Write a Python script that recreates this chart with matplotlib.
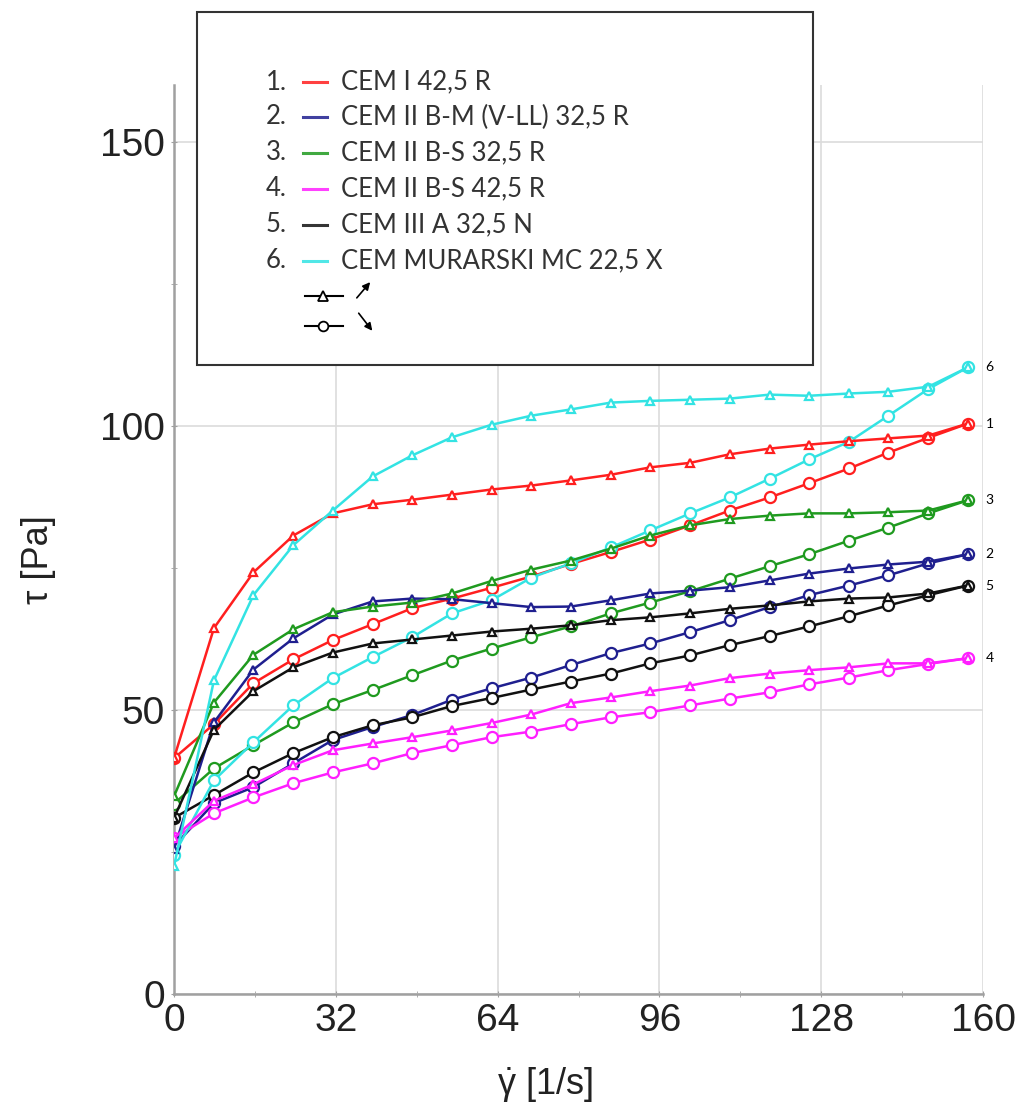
import matplotlib
matplotlib.use('Agg')
import matplotlib.pyplot as plt
from matplotlib.lines import Line2D
from matplotlib.patches import Rectangle, FancyArrowPatch

plt.rcParams['mathtext.fontset'] = 'custom'
plt.rcParams['mathtext.rm'] = 'Liberation Sans'
plt.rcParams['mathtext.it'] = 'Liberation Sans'

# --- Data: shear stress tau [Pa] vs shear rate [1/s], up (triangles) and down (circles) ---
shear_rate = [0, 7.9, 15.7, 23.6, 31.4, 39.3, 47.1, 55.0, 62.8, 70.7, 78.5,
              86.4, 94.2, 102.1, 109.9, 117.8, 125.6, 133.5, 141.3, 149.2, 157.0]

labels = ['CEM I 42,5 R', 'CEM II B-M (V-LL) 32,5 R', 'CEM II B-S 32,5 R',
          'CEM II B-S 42,5 R', 'CEM III A 32,5 N', 'CEM MURARSKI MC 22,5 X']
colors = ['#ff1f1f', '#1f1f8f', '#1f9a1f', '#ff1fff', '#111111', '#33e3e3']

up_1 = [41.5, 64.4, 74.2, 80.7, 84.6, 86.2, 87.0, 87.9, 88.8, 89.5, 90.4,
        91.4, 92.7, 93.5, 95.0, 96.0, 96.7, 97.3, 97.8, 98.3, 100.4]
down_1 = [41.5, 47.5, 54.7, 58.9, 62.3, 65.1, 67.9, 69.6, 71.5, 73.5, 75.7,
          77.8, 80.0, 82.5, 85.1, 87.4, 89.9, 92.5, 95.3, 97.9, 100.4]
up_2 = [25.5, 47.8, 57.1, 62.6, 66.8, 69.1, 69.6, 69.5, 68.8, 68.1, 68.2,
        69.3, 70.5, 71.0, 71.6, 72.8, 74.0, 74.9, 75.6, 76.1, 77.4]
down_2 = [26.0, 33.6, 36.4, 40.6, 44.7, 47.0, 49.1, 51.8, 53.8, 55.7, 57.9,
          60.0, 61.7, 63.7, 65.8, 68.1, 70.2, 71.9, 73.7, 75.8, 77.4]
up_3 = [34.8, 51.3, 59.7, 64.2, 67.2, 68.2, 68.9, 70.5, 72.7, 74.7, 76.3,
        78.4, 80.7, 82.5, 83.6, 84.2, 84.6, 84.6, 84.8, 85.1, 86.9]
down_3 = [33.5, 39.7, 43.8, 47.8, 51.0, 53.5, 56.1, 58.7, 60.8, 62.8, 64.7,
          67.0, 68.9, 70.9, 73.1, 75.3, 77.4, 79.8, 82.1, 84.6, 86.9]
up_4 = [27.4, 34.0, 36.9, 40.3, 42.9, 44.1, 45.2, 46.4, 47.7, 49.2, 51.2,
        52.2, 53.3, 54.3, 55.6, 56.4, 57.0, 57.5, 58.2, 58.2, 59.1]
down_4 = [27.4, 31.8, 34.6, 37.1, 39.0, 40.6, 42.4, 43.8, 45.2, 46.2, 47.5,
          48.7, 49.6, 50.8, 52.0, 53.1, 54.5, 55.7, 57.0, 58.1, 59.1]
up_5 = [31.0, 46.5, 53.3, 57.5, 60.1, 61.7, 62.4, 63.1, 63.8, 64.3, 64.9,
        65.8, 66.3, 67.0, 67.8, 68.4, 69.1, 69.6, 69.8, 70.5, 71.9]
down_5 = [31.0, 35.0, 39.0, 42.4, 45.2, 47.3, 48.7, 50.7, 52.1, 53.6, 55.0,
          56.4, 58.2, 59.6, 61.4, 63.0, 64.7, 66.5, 68.4, 70.2, 71.9]
up_6 = [22.5, 55.2, 70.2, 79.0, 85.1, 91.1, 94.8, 98.0, 100.2, 101.8, 102.9,
        104.1, 104.4, 104.6, 104.8, 105.5, 105.3, 105.7, 106.0, 106.9, 110.3]
down_6 = [24.5, 37.6, 44.3, 50.8, 55.6, 59.3, 62.8, 67.0, 69.3, 73.3, 75.8,
          78.6, 81.6, 84.6, 87.4, 90.7, 94.1, 97.2, 101.8, 106.5, 110.3]

ups = [up_1, up_2, up_3, up_4, up_5, up_6]
downs = [down_1, down_2, down_3, down_4, down_5, down_6]

W, H = 1024, 1118


def fc(px, py):
    # pixel position -> figure fraction
    return px / W, 1 - py / H


fig = plt.figure(figsize=(W / 100, H / 100), dpi=100)
ax = fig.add_axes([174 / W, 1 - 994 / H, (983 - 174) / W, (994 - 85) / H])

for up, down, c in zip(ups, downs, colors):
    ax.plot(shear_rate, down, color=c, lw=1.8, marker='o', ms=8,
            mfc='white', mec=c, mew=1.6, zorder=3)
    ax.plot(shear_rate, up, color=c, lw=1.8, marker='^', ms=6,
            mfc='white', mec=c, mew=1.6, zorder=4)

# curve numbers at the right end
for i, down in enumerate(downs):
    ax.text(shear_rate[-1] + 3.5, down[-1], str(i + 1), fontsize=10,
            va='center', ha='left', family='Lato', clip_on=False)

ax.set_xlim(0, 160)
ax.set_ylim(0, 160)
ax.set_xticks([0, 32, 64, 96, 128, 160])
ax.set_xticks(range(16, 160, 32), minor=True)
ax.set_yticks([0, 50, 100, 150])
ax.set_yticks([25, 75, 125], minor=True)
ax.grid(True, which='major', color='#dcdcdc', lw=1.2)
for s in ['top', 'right']:
    ax.spines[s].set_visible(False)
for s in ['left', 'bottom']:
    ax.spines[s].set_color('#a0a0a0')
    ax.spines[s].set_linewidth(1.8)
ax.tick_params(which='both', direction='inout', color='#a0a0a0', length=5,
               labelsize=28, pad=4, labelcolor='#222222')
for lab in ax.get_xticklabels() + ax.get_yticklabels():
    lab.set_family('Liberation Sans')
ax.set_axisbelow(True)

fig.text(*fc(38, 560), '\u03c4 [Pa]', rotation=90, fontsize=26,
         family='Liberation Sans', ha='center', va='center', color='#222222')
fig.text(*fc(545, 1085), r'$\dot{\mathrm{\gamma}}$ [1/s]', fontsize=26,
         family='Liberation Sans', ha='center', va='center', color='#222222')

# legend box (extends above the axes)
x0, y0 = fc(197, 365)
x1, y1 = fc(813, 12)
fig.patches.append(Rectangle((x0, y0), x1 - x0, y1 - y0, transform=fig.transFigure,
                             fill=True, facecolor='white', edgecolor='#333333',
                             lw=1.5, zorder=10))

rows_y = [82, 117, 153, 189, 225, 261]
for i, (lab, c, ry) in enumerate(zip(labels, colors, rows_y)):
    fig.text(*fc(266, ry), f'{i + 1}.', fontsize=18.5, family='Lato',
             va='center', ha='left', color='#333333', zorder=11)
    fig.add_artist(Line2D([303 / W, 327 / W], [1 - ry / H] * 2, color=c, lw=2.2,
                          alpha=0.85, transform=fig.transFigure, zorder=11))
    fig.text(*fc(341, ry), lab, fontsize=18.5, family='Lato',
             va='center', ha='left', color='#333333', zorder=11)

for ry, mk in [(296, '^'), (326, 'o')]:
    fig.add_artist(Line2D([305 / W, 343 / W], [1 - ry / H] * 2, color='black', lw=1.5,
                          transform=fig.transFigure, zorder=11))
    fig.add_artist(Line2D([323 / W], [1 - ry / H], marker=mk, ms=7, mfc='white',
                          mec='black', mew=1.3, transform=fig.transFigure, zorder=12))

for start, end in [((355, 300), (372, 280)), ((357, 311), (374, 333))]:
    fig.add_artist(FancyArrowPatch(fc(*start), fc(*end), transform=fig.transFigure,
                                   arrowstyle='-|>', mutation_scale=11, color='black',
                                   lw=1.2, zorder=12))

fig.savefig('out.png', dpi=100)
